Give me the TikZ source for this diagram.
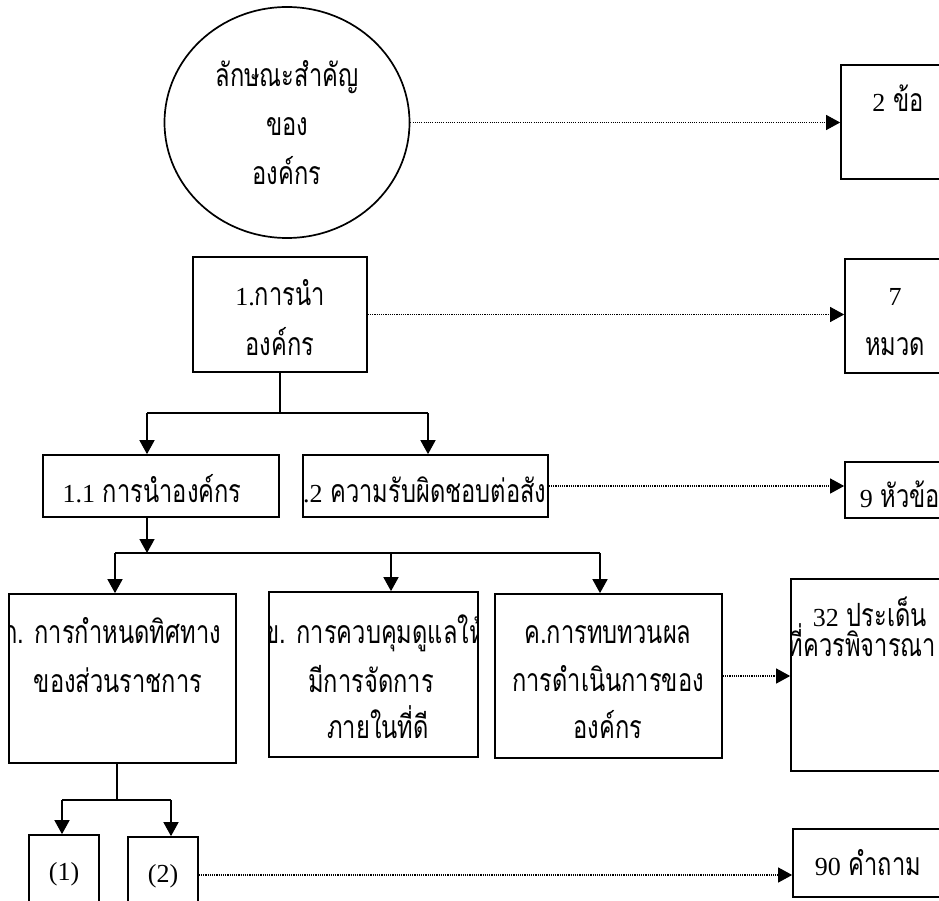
\documentclass[tikz,border=0pt]{standalone}
\usepackage{fontspec}
\setmainfont{Liberation Serif}
\newfontfamily\thaifont[Script=Thai,FakeStretch=0.74]{Loma}
\usetikzlibrary{arrows.meta,shapes.geometric}
\newcommand\latn[1]{{\rmfamily\fontsize{26}{30}\selectfont #1}}
\tikzset{
  box/.style={draw, line width=1.7pt, inner sep=0pt},
  txt/.style={font=\thaifont\fontsize{32}{36}\selectfont, inner sep=0pt, anchor=base},
  conn/.style={line width=1.6pt},
  dotline/.style={line width=1.1pt, dash pattern=on 1.1pt off 1.1pt}
}
\begin{document}
\begin{tikzpicture}[x=1pt, y=-1pt, >={Triangle[length=14pt,width=15pt]}]
  \clip (0,0) rectangle (939,901);
  % boxes
  \node[ellipse, draw, line width=1.7pt, minimum width=245pt, minimum height=231pt] (circ) at (287,122.5) {};
  \node[box, minimum width=114pt, minimum height=114pt] (two) at (898,122) {};
  \node[box, minimum width=174pt, minimum height=115pt] (lead) at (280,314.5) {};
  \node[box, minimum width=100pt, minimum height=114pt] (seven) at (895,316) {};
  \node[box, minimum width=236pt, minimum height=62pt] (leadA) at (161,486) {};
  \node[box, minimum width=245pt, minimum height=62pt] (social) at (425.5,486) {};
  \node[box, minimum width=100pt, minimum height=56pt] (nine) at (895,490) {};
  \node[box, minimum width=227pt, minimum height=169pt] (dir) at (122.5,678.5) {};
  \node[box, minimum width=209pt, minimum height=165pt] (gov) at (373.5,674.5) {};
  \node[box, minimum width=227pt, minimum height=164pt] (rev) at (608.5,676) {};
  \node[box, minimum width=158pt, minimum height=192pt] (pts) at (870,675) {};
  \node[box, minimum width=70pt, minimum height=76pt] (one) at (64,873) {};
  \node[box, minimum width=70pt, minimum height=76pt] (twoB) at (163,875) {};
  \node[box, minimum width=152pt, minimum height=68pt] (qs) at (869,863) {};
  % texts that fit
  \foreach \t/\x/\y [count=\i] in {ลักษณะสำคัญ/287/87, ของ/287/136, องค์กร/287/185,
      \latn{2} ข้อ/898/112, \latn{1.}การนำ/280/305, องค์กร/280/355,
      \latn{7}/895/305, หมวด/895/355, \latn{1.1} การนำองค์กร/152/502,
      \latn{9} หัวข้อ/900/507, ของส่วนราชการ/118/692,
      มีการจัดการ/371/692, ภายในที่ดี/378/738,
      ค.การทบทวนผล/608/643, การดำเนินการของ/608/691, องค์กร/608/738,
      \latn{32} ประเด็น/870/626, \latn{(1)}/64/880, \latn{(2)}/163/882,
      \latn{90} คำถาม/868/875}
    \node[txt] (t\i) at (\x,\y) {\t};
  % texts cut by their boxes
  \begin{scope}
    \clip (dir.south west) rectangle (dir.north east);
    \node[txt] (dirA) at (112,643) {ก. การกำหนดทิศทาง};
  \end{scope}
  \begin{scope}
    \clip (gov.south west) rectangle (gov.north east);
    \node[txt] (govA) at (374,643) {ข. การควบคุมดูแลให้};
  \end{scope}
  \begin{scope}
    \clip (social.south west) rectangle (social.north east);
    \node[txt] (socA) at (434,502) {\latn{1.2} ความรับผิดชอบต่อสังคม};
  \end{scope}
  \begin{scope}
    \clip (pts.south west) rectangle (pts.north east);
    \node[txt] (ptsA) at (862,656) {ที่ควรพิจารณา};
  \end{scope}
  % dotted links
  \draw[dotline,->] (circ.east) -- (circ.east -| two.west);
  \draw[dotline,->] (lead.east) -- (lead.east -| seven.west);
  \draw[dotline,->] (social.east) -- (social.east -| nine.west);
  \draw[dotline,->] (rev.east) -- (rev.east -| pts.west);
  \draw[dotline,->] (twoB.east) -- (twoB.east -| qs.west);
  % tree lines
  \coordinate (busA) at (147,413);
  \coordinate (busB) at (428,413);
  \coordinate (busC) at (115,553);
  \coordinate (busE) at (391,553);
  \coordinate (busD) at (600,553);
  \coordinate (busM) at (117,800);
  \coordinate (busF) at (62,800);
  \coordinate (busG) at (171,800);
  \draw[conn] (lead.south) -- (lead.south |- busA);
  \draw[conn] (busA) -- (busB);
  \draw[conn,->] (busA) -- (busA |- leadA.north);
  \draw[conn,->] (busB) -- (busB |- social.north);
  \draw[conn,->] (leadA.south -| busA) -- (busA |- busC);
  \draw[conn] (busC) -- (busD);
  \draw[conn,->] (busC) -- (busC |- dir.north);
  \draw[conn,->] (busE) -- (busE |- gov.north);
  \draw[conn,->] (busD) -- (busD |- rev.north);
  \draw[conn] (busM |- dir.south) -- (busM);
  \draw[conn] (busF) -- (busG);
  \draw[conn,->] (busF) -- (busF |- one.north);
  \draw[conn,->] (busG) -- (busG |- twoB.north);
\end{tikzpicture}
\end{document}
